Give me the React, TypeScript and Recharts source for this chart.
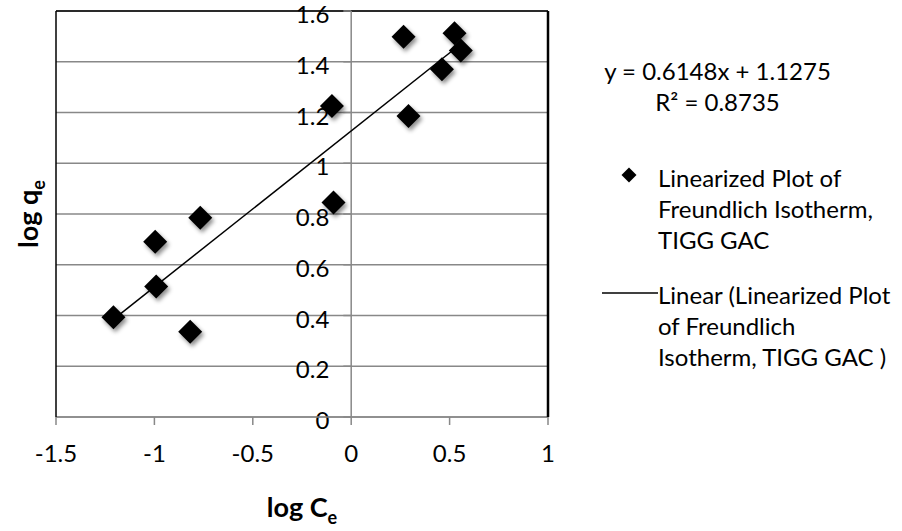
import { ComposedChart, Scatter, XAxis, YAxis, ReferenceLine, Legend } from 'recharts';

// log Ce / log qe pairs
const logCe = [0.266, 0.525, 0.557, 0.461, -0.098, 0.291, -0.09, -0.767, -0.996, -0.991, -1.208, -0.818];
const logQe = [1.499, 1.512, 1.444, 1.37, 1.226, 1.186, 0.845, 0.785, 0.691, 0.514, 0.393, 0.336];

// fitted line: y = 0.6148x + 1.1275, R² = 0.8735
const SLOPE = 0.6148;
const INTERCEPT = 1.1275;
const R2 = 0.8735;

const xTicks = [-1.5, -1, -0.5, 0, 0.5, 1];
const yTicks = [0, 0.2, 0.4, 0.6, 0.8, 1, 1.2, 1.4, 1.6];

const seriesLines = ['Linearized Plot of', 'Freundlich Isotherm,', 'TIGG GAC'];
const trendLines = ['Linear (Linearized Plot', 'of Freundlich', 'Isotherm, TIGG GAC )'];

const FONT = 'Lato, "Open Sans", sans-serif';
const FS = 24;
const TITLE_FS = 27;
const GRID = '#888888';

const points = logCe.map((x, i) => ({ x, y: logQe[i] }));
const xMin = Math.min(...logCe);
const xMax = Math.max(...logCe);
const trend = [xMin, xMax].map((x) => ({ x, y: SLOPE * x + INTERCEPT }));

const Diamond = (props: any) => {
  const { cx, cy } = props;
  const r = 12;
  return (
    <polygon
      points={`${cx},${cy - r} ${cx + r},${cy} ${cx},${cy + r} ${cx - r},${cy}`}
      fill="#000"
      filter="url(#mkShadow)"
    />
  );
};

const NoDot = () => <g />;

const YTickLabel = (props: any) => {
  const { viewBox, value } = props;
  return (
    <text x={viewBox.x - 14} y={viewBox.y + 6} textAnchor="end" dominantBaseline="middle" fontSize={FS} fontFamily={FONT} fill="#000">
      {value}
    </text>
  );
};

const XTitle = (props: any) => {
  const { viewBox } = props;
  return (
    <text x={viewBox.x + viewBox.width / 2} y={viewBox.y + 100} textAnchor="middle" fontSize={TITLE_FS} fontWeight="bold" fontFamily={FONT} fill="#000">
      <tspan>log C</tspan>
      <tspan dy={7} fontSize={18}>e</tspan>
    </text>
  );
};

const YTitle = (props: any) => {
  const { viewBox } = props;
  const cx = viewBox.x - 17;
  const cy = viewBox.y + viewBox.height / 2;
  return (
    <text x={cx} y={cy} transform={`rotate(-90 ${cx} ${cy})`} textAnchor="middle" fontSize={TITLE_FS} fontWeight="bold" fontFamily={FONT} fill="#000">
      <tspan>log q</tspan>
      <tspan dy={7} fontSize={18}>e</tspan>
    </text>
  );
};

const LegendBox = () => {
  const lh = 31;
  const txt: React.CSSProperties = { position: 'absolute', fontFamily: FONT, fontSize: FS, lineHeight: `${lh}px`, color: '#000', whiteSpace: 'nowrap' };
  return (
    <div style={{ position: 'relative', width: 312, height: 400 }}>
      <div style={{ ...txt, left: 0, top: 55, width: 255, textAlign: 'center' }}>
        {`y = ${SLOPE}x + ${INTERCEPT}`}
        <br />
        {'R² = '}{R2}
      </div>
      <svg style={{ position: 'absolute', left: 30, top: 166 }} width={18} height={18}>
        <polygon points="9,1.5 16.5,9 9,16.5 1.5,9" fill="#000" />
      </svg>
      <div style={{ ...txt, left: 68, top: 162 }}>
        {seriesLines.map((l) => (
          <div key={l}>{l}</div>
        ))}
      </div>
      <svg style={{ position: 'absolute', left: 10, top: 285 }} width={60} height={16}>
        <line x1={2} y1={8} x2={58} y2={8} stroke="#000" strokeWidth={1.5} />
      </svg>
      <div style={{ ...txt, left: 68, top: 279 }}>
        {trendLines.map((l) => (
          <div key={l}>{l}</div>
        ))}
      </div>
    </div>
  );
};

export default function App() {
  return (
    <div style={{ position: 'absolute', left: 0, top: 0, width: 902, height: 531, background: '#fff' }}>
      <ComposedChart width={902} height={531} margin={{ top: 11, right: 353, bottom: 14, left: 55 }} style={{ fontFamily: FONT }}>
        <defs>
          <filter id="mkShadow" x="-50%" y="-50%" width="200%" height="200%">
            <feDropShadow dx={2} dy={3} stdDeviation={2} floodColor="#000" floodOpacity={0.45} />
          </filter>
        </defs>
        <XAxis
          type="number"
          dataKey="x"
          domain={[-1.5, 1]}
          ticks={xTicks}
          allowDataOverflow
          height={100}
          axisLine={{ stroke: GRID, strokeWidth: 1.5 }}
          tickLine={{ stroke: GRID, strokeWidth: 1.5 }}
          tickSize={8}
          tickMargin={20}
          tick={{ fill: '#000', fontSize: FS, fontFamily: FONT }}
          label={<XTitle />}
        />
        <YAxis
          type="number"
          dataKey="y"
          domain={[0, 1.6]}
          ticks={yTicks}
          width={1}
          tick={false}
          tickLine={false}
          axisLine={{ stroke: '#000', strokeWidth: 1.5 }}
          label={<YTitle />}
        />
        <YAxis
          yAxisId="r"
          orientation="right"
          type="number"
          dataKey="y"
          domain={[0, 1.6]}
          ticks={yTicks}
          width={1}
          tick={false}
          tickLine={false}
          axisLine={{ stroke: '#000', strokeWidth: 2.5 }}
        />
        {/* horizontal gridlines */}
        {yTicks.map((v) => (
          <ReferenceLine key={`g${v}`} segment={[{ x: -1.5, y: v }, { x: 1, y: v }]} stroke={GRID} strokeWidth={1.5} />
        ))}
        <ReferenceLine y={1.6} stroke="#000" strokeWidth={1.5} />
        {/* value axis crossing at x = 0 */}
        <ReferenceLine segment={[{ x: 0, y: 0 }, { x: 0, y: 1.6 }]} stroke={GRID} strokeWidth={1.5} />
        {yTicks.map((v) => (
          <ReferenceLine
            key={`t${v}`}
            segment={[{ x: -0.04, y: v }, { x: 0, y: v }]}
            stroke={GRID}
            strokeWidth={1.5}
            label={<YTickLabel value={String(v)} />}
          />
        ))}
        <Scatter
          name="Linear (Linearized Plot of Freundlich Isotherm, TIGG GAC )"
          data={trend}
          dataKey="y"
          line={{ stroke: '#000', strokeWidth: 1.5 }}
          shape={<NoDot />}
          legendType="none"
          isAnimationActive={false}
        />
        <Scatter
          name="Linearized Plot of Freundlich Isotherm, TIGG GAC"
          data={points}
          dataKey="y"
          shape={<Diamond />}
          isAnimationActive={false}
        />
        <Legend
          layout="horizontal"
          verticalAlign="middle"
          align="center"
          content={<LegendBox />}
          wrapperStyle={{ left: 590, top: 0, width: 312, height: 400 }}
        />
      </ComposedChart>
    </div>
  );
}
